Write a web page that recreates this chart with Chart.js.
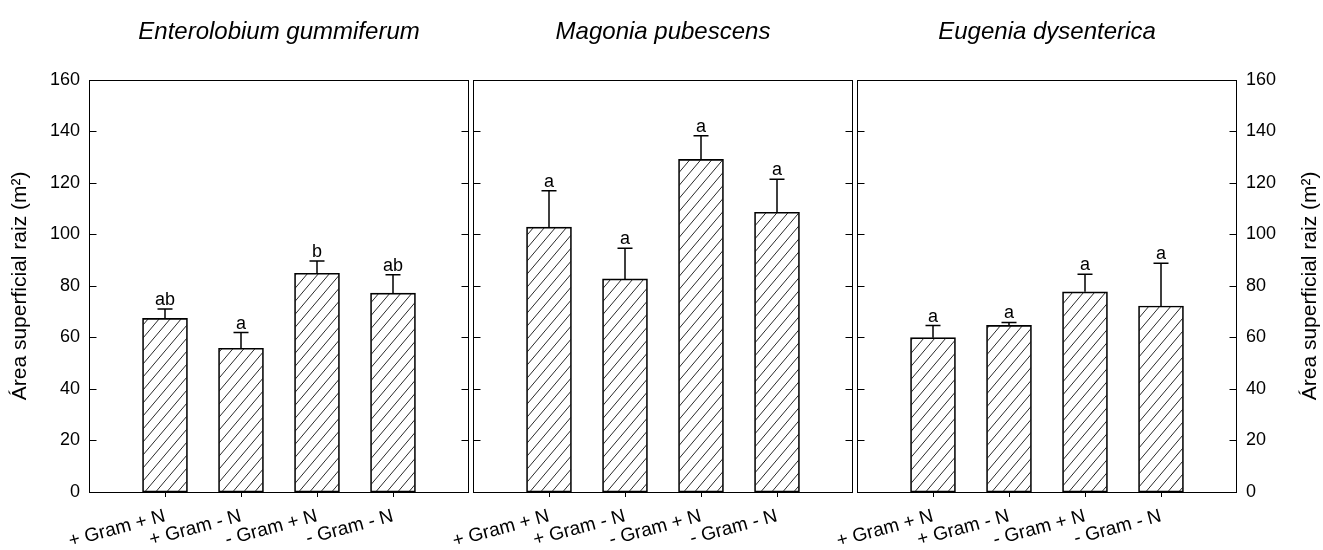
<!DOCTYPE html>
<html>
<head>
<meta charset="utf-8">
<script src="https://cdn.jsdelivr.net/npm/chart.js@4.4.1/dist/chart.umd.min.js"></script>
<style>
  html, body { margin: 0; padding: 0; background: #fff; }
  #wrap { position: relative; width: 1323px; height: 550px; }
  #wrap canvas { position: absolute; left: 0; top: 0; }
</style>
</head>
<body>
<div id="wrap">
  <canvas id="c1" width="1323" height="550"></canvas>
  <canvas id="c2" width="1323" height="550"></canvas>
  <canvas id="c3" width="1323" height="550"></canvas>
</div>
<script>
// data
const species = ['Enterolobium gummiferum', 'Magonia pubescens', 'Eugenia dysenterica'];
const categories = ['+ Gram + N', '+ Gram - N', '- Gram + N', '- Gram - N'];
const yTicks = [0, 20, 40, 60, 80, 100, 120, 140, 160];
const yTitle = 'Área superficial raiz (m²)';

const enteroMeans = [67.4, 55.8, 84.9, 77.2];
const enteroErr = [3.6, 6.1, 4.8, 7.1];
const enteroLetters = ['ab', 'a', 'b', 'ab'];

const magoniaMeans = [102.8, 82.7, 129.1, 108.6];
const magoniaErr = [14.1, 11.9, 9.2, 12.8];
const magoniaLetters = ['a', 'a', 'a', 'a'];

const eugeniaMeans = [59.9, 64.7, 77.7, 72.2];
const eugeniaErr = [4.7, 1.1, 6.8, 16.6];
const eugeniaLetters = ['a', 'a', 'a', 'a'];

const FONT = '"Liberation Sans", Arial, Helvetica, sans-serif';

// hatch "/" pattern
function hatch() {
  const w = 11, h = 13;
  const c = document.createElement('canvas');
  c.width = w; c.height = h;
  const g = c.getContext('2d');
  g.strokeStyle = '#111';
  g.lineWidth = 0.9;
  g.beginPath();
  for (let k = -1; k <= 1; k++) {
    g.moveTo(k * w, h);
    g.lineTo((k + 1) * w, 0);
  }
  g.stroke();
  return g.createPattern(c, 'repeat');
}
const pattern = hatch();

// pad the 4 bars with an empty slot at each end, so they sit at 1..4 of 0..5
const pad = arr => [null, ...arr, null];

const frame = {
  id: 'frame',
  afterDatasetsDraw(chart, args, opts) {
    const {ctx, chartArea: a, scales: {y}} = chart;
    const L = Math.round(a.left) + 0.5, R = Math.round(a.right) - 0.5;
    const T = Math.round(a.top) + 0.5, B = Math.round(a.bottom) + 0.5;
    ctx.save();
    ctx.strokeStyle = '#000';
    ctx.lineWidth = 1;
    ctx.strokeRect(L, T, R - L, B - T);
    ctx.beginPath();
    y.ticks.forEach(t => {
      const py = Math.round(y.getPixelForValue(t.value)) + 0.5;
      ctx.moveTo(L, py); ctx.lineTo(L + 7, py);
      ctx.moveTo(R, py); ctx.lineTo(R - 7, py);
    });
    ctx.stroke();

    // error bars and letters
    const meta = chart.getDatasetMeta(0);
    const vals = chart.data.datasets[0].data;
    ctx.lineWidth = 1.5;
    ctx.fillStyle = '#000';
    ctx.font = '18px ' + FONT;
    ctx.textAlign = 'center';
    ctx.textBaseline = 'alphabetic';
    meta.data.forEach((bar, i) => {
      if (vals[i] == null) return;
      const top = y.getPixelForValue(vals[i] + opts.errors[i]);
      const x = Math.round(bar.x);
      ctx.beginPath();
      ctx.moveTo(x, bar.y); ctx.lineTo(x, top);
      ctx.moveTo(x - 7.5, top); ctx.lineTo(x + 7.5, top);
      ctx.stroke();
      ctx.fillText(opts.letters[i], x, top - 4);
    });

    if (opts.rightTitle) {
      ctx.save();
      ctx.translate(1310, (a.top + a.bottom) / 2);
      ctx.rotate(-Math.PI / 2);
      ctx.font = '21px ' + FONT;
      ctx.textBaseline = 'middle';
      ctx.fillText(yTitle, 0, 0);
      ctx.restore();
    }
    ctx.restore();
  }
};

function panel(id, n, means, errs, letters, side, padLeft, padRight, yWidth) {
  const yShow = side !== 'none';
  new Chart(document.getElementById(id), {
    type: 'bar',
    data: {
      labels: ['', ...categories, ''],
      datasets: [{
        data: pad(means),
        backgroundColor: pattern,
        borderColor: '#000',
        borderWidth: 1,
        borderSkipped: false,
        barThickness: 45
      }]
    },
    options: {
      responsive: false,
      animation: false,
      layout: { padding: { left: padLeft, right: padRight, top: 0, bottom: 0 } },
      plugins: {
        legend: { display: false },
        tooltip: { enabled: false },
        title: {
          display: true,
          text: species[n],
          fullSize: false,
          color: '#000',
          font: { family: FONT, size: 24, style: 'italic', weight: 'normal', lineHeight: 1.2 },
          padding: { top: 18, bottom: 33 }
        },
        frame: { errors: pad(errs), letters: pad(letters), rightTitle: side === 'right' }
      },
      scales: {
        x: {
          type: 'category',
          offset: false,
          border: { display: false },
          grid: {
            offset: false,
            drawOnChartArea: false,
            drawTicks: true,
            tickLength: 5,
            lineWidth: 1,
            color: c => (c.index === 0 || c.index === categories.length + 1) ? 'rgba(0,0,0,0)' : '#000'
          },
          ticks: {
            autoSkip: false,
            minRotation: 15,
            maxRotation: 15,
            padding: 8,
            color: '#000',
            font: { family: FONT, size: 19 }
          },
          afterFit: s => { s.height = 58; }
        },
        y: {
          position: side === 'right' ? 'right' : 'left',
          min: 0,
          max: 160,
          afterBuildTicks: s => { s.ticks = yTicks.map(v => ({ value: v })); },
          border: { display: false },
          grid: { display: false, drawTicks: false },
          ticks: {
            display: yShow,
            padding: 9,
            color: '#000',
            font: { family: FONT, size: 18 }
          },
          title: {
            display: side === 'left',
            text: yTitle,
            color: '#000',
            font: { family: FONT, size: 21, lineHeight: 1.2 },
            padding: { top: 8, bottom: 0 }
          },
          afterFit: s => { s.width = yWidth; }
        }
      }
    },
    plugins: [frame]
  });
}

panel('c1', 0, enteroMeans, enteroErr, enteroLetters, 'left', 0, 1323 - 469, 89);
panel('c2', 1, magoniaMeans, magoniaErr, magoniaLetters, 'none', 473, 1323 - 853, 0);
panel('c3', 2, eugeniaMeans, eugeniaErr, eugeniaLetters, 'right', 857, 0, 1323 - 1237);
</script>
</body>
</html>
